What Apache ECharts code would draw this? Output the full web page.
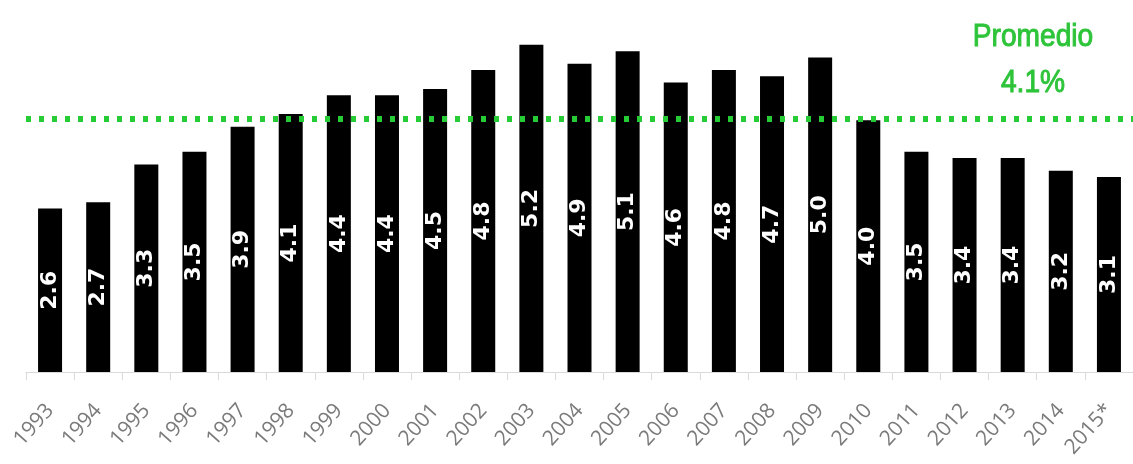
<!DOCTYPE html>
<html>
<head>
<meta charset="utf-8">
<script src="https://cdn.jsdelivr.net/npm/echarts@6/dist/echarts.min.js"></script>
<style>html,body{margin:0;padding:0;background:#fff;}#c{width:1133px;height:464px;}</style>
</head>
<body>
<div id="c"></div>
<script>
const years = ['1993','1994','1995','1996','1997','1998','1999','2000','2001','2002','2003','2004','2005','2006','2007','2008','2009','2010','2011','2012','2013','2014','2015*'];
const values = [2.6,2.7,3.3,3.5,3.9,4.1,4.4,4.4,4.5,4.8,5.2,4.9,5.1,4.6,4.8,4.7,5.0,4.0,3.5,3.4,3.4,3.2,3.1];
const averageLine = 4.03;
const averageText = ['Promedio', '4.1%'];

const chart = echarts.init(document.getElementById('c'), null, {renderer: 'canvas'});
chart.setOption({
  animation: false,
  backgroundColor: '#ffffff',
  grid: {left: 26, right: -1, top: 26, bottom: 92},
  xAxis: {
    type: 'category',
    data: years,
    boundaryGap: true,
    axisLine: {show: true, lineStyle: {color: '#d9d9d9', width: 1}},
    axisTick: {show: true, length: 8, lineStyle: {color: '#d9d9d9'}},
    axisLabel: {
      rotate: 48, margin: 35, interval: 0,
      color: '#7a7a7a', fontSize: 21, fontFamily: 'Open Sans'
    }
  },
  yAxis: {
    type: 'value', min: 0, max: 5.5, show: false,
    splitLine: {show: false}
  },
  series: [{
    type: 'bar',
    data: values,
    barWidth: 24,
    itemStyle: {color: '#000000'},
    label: {
      show: true, position: 'inside', rotate: 90,
      color: '#ffffff', fontSize: 22, fontWeight: 'bold', fontFamily: 'DejaVu Sans',
      formatter: p => p.value.toFixed(1)
    },
    markLine: {
      silent: true,
      symbol: 'none',
      label: {show: false},
      lineStyle: {color: '#26cc36', width: 6, type: [5, 8]},
      data: [{yAxis: averageLine}]
    }
  }],
  graphic: [
    {type: 'text', x: 1033, y: 37, scaleX: 0.88,
     style: {text: averageText[0], fill: '#2ec43a', stroke: '#2ec43a', lineWidth: 1, font: '32px "Liberation Sans"', textAlign: 'center', textVerticalAlign: 'middle'}},
    {type: 'text', x: 1033, y: 83, scaleX: 0.88,
     style: {text: averageText[1], fill: '#2ec43a', stroke: '#2ec43a', lineWidth: 1, font: '32px "Liberation Sans"', textAlign: 'center', textVerticalAlign: 'middle'}}
  ]
});
</script>
</body>
</html>
